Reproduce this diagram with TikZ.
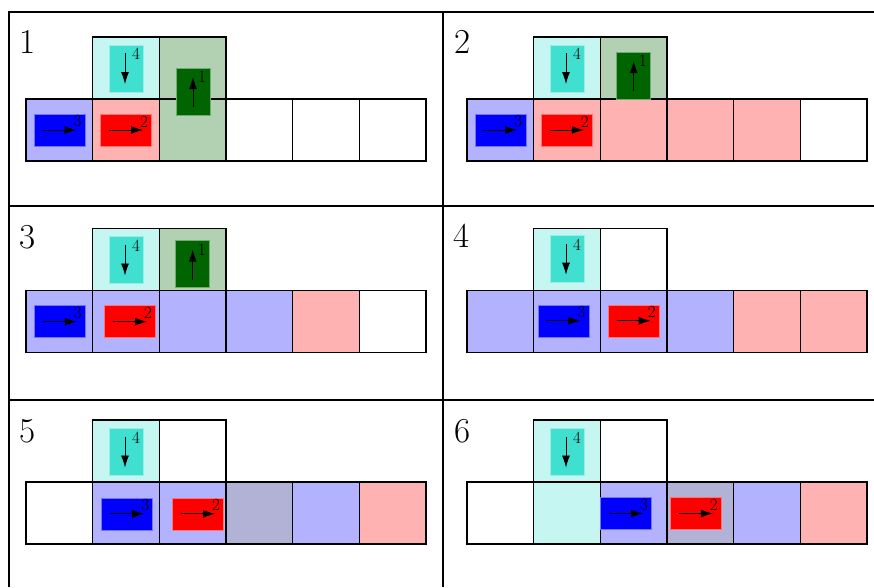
\documentclass[tikz,border=0pt]{standalone}
\usetikzlibrary{arrows.meta,calc}
\definecolor{turq}{RGB}{64,224,208}
\definecolor{dkgreen}{RGB}{0,100,0}
\definecolor{grayblue}{RGB}{178,178,214}
\tikzset{
  cellbox/.style={draw=black, line width=1.3pt},
  hbox/.style={minimum width=51pt, minimum height=32pt, inner sep=0pt, line width=0.6pt},
  vbox/.style={minimum width=34pt, minimum height=47pt, inner sep=0pt, line width=0.6pt},
  arr/.style={line width=0.8pt, -{Latex[length=12pt,width=8pt]}},
  lab/.style={inner sep=0pt, font=\fontsize{17}{17}\selectfont},
  bignum/.style={inner sep=0pt, anchor=base, font=\fontsize{35}{35}\selectfont},
  tabline/.style={line width=2pt}
}
% cell: panel-x, panel-y, column, row, fill
\newcommand\cellat[5]{%
  \draw[cellbox, fill=#5] ({#1+#3*66.67},{#2+#4*62}) rectangle ++(66.67,62);}
% horizontal vehicle: name, x, y, colour, label
\newcommand\hveh[5]{%
  \node[hbox, fill=#4, draw=#4!55] (#1) at (#2,#3) {};
  \draw[arr] ($(#1.center)+(-17,0)$) -- ($(#1.center)+(17,0)$);
  \node[lab] (#1l) at ($(#1.center)+(18,-8.5)$) {#5};}
% vertical vehicle going down
\newcommand\dveh[5]{%
  \node[vbox, fill=#4, draw=#4!55] (#1) at (#2,#3) {};
  \draw[arr] ($(#1.center)+(-1,-15.5)$) -- ($(#1.center)+(-1,15.5)$);
  \node[lab] (#1l) at ($(#1.center)+(10,-14.5)$) {#5};}
% vertical vehicle going up
\newcommand\uveh[5]{%
  \node[vbox, fill=#4, draw=#4!55] (#1) at (#2,#3) {};
  \draw[arr] ($(#1.center)+(0,15.5)$) -- ($(#1.center)+(0,-14.5)$);
  \node[lab] (#1l) at ($(#1.center)+(9,-14.5)$) {#5};}
\begin{document}
\begin{tikzpicture}[x=1pt,y=-1pt]
\useasboundingbox[fill=white] (0,0) rectangle (874,587);

% ---------- Panel 1 ----------
\cellat{26}{37}{1}{0}{turq!30}
\cellat{26}{37}{2}{0}{dkgreen!30}
\cellat{26}{37}{0}{1}{blue!30}
\cellat{26}{37}{1}{1}{red!30}
\cellat{26}{37}{2}{1}{dkgreen!30}
\cellat{26}{37}{3}{1}{white}
\cellat{26}{37}{4}{1}{white}
\cellat{26}{37}{5}{1}{white}
\dveh{a4}{126}{68.5}{turq}{4}
\uveh{a1}{193}{91.5}{dkgreen}{1}
\hveh{a3}{59.5}{130}{blue}{3}
\hveh{a2}{126}{130}{red}{2}
\node[bignum] (n1) at (28,53) {1};

% ---------- Panel 2 ----------
\cellat{467}{37}{1}{0}{turq!30}
\cellat{467}{37}{2}{0}{dkgreen!30}
\cellat{467}{37}{0}{1}{blue!30}
\cellat{467}{37}{1}{1}{red!30}
\cellat{467}{37}{2}{1}{red!30}
\cellat{467}{37}{3}{1}{red!30}
\cellat{467}{37}{4}{1}{red!30}
\cellat{467}{37}{5}{1}{white}
\dveh{b4}{567}{68.5}{turq}{4}
\uveh{b1}{633.7}{75.5}{dkgreen}{1}
\hveh{b3}{500.3}{130}{blue}{3}
\hveh{b2}{566.8}{130}{red}{2}
\node[bignum] (n2) at (463,53) {2};

% ---------- Panel 3 ----------
\cellat{26}{228.5}{1}{0}{turq!30}
\cellat{26}{228.5}{2}{0}{dkgreen!30}
\cellat{26}{228.5}{0}{1}{blue!30}
\cellat{26}{228.5}{1}{1}{blue!30}
\cellat{26}{228.5}{2}{1}{blue!30}
\cellat{26}{228.5}{3}{1}{blue!30}
\cellat{26}{228.5}{4}{1}{red!30}
\cellat{26}{228.5}{5}{1}{white}
\dveh{c4}{126}{260}{turq}{4}
\uveh{c1}{192.7}{264}{dkgreen}{1}
\hveh{c3}{59.8}{321.7}{blue}{3}
\hveh{c2}{130}{321.7}{red}{2}
\node[bignum] (n3) at (28,248) {3};

% ---------- Panel 4 ----------
\cellat{467}{228.5}{1}{0}{turq!30}
\cellat{467}{228.5}{2}{0}{white}
\cellat{467}{228.5}{0}{1}{blue!30}
\cellat{467}{228.5}{1}{1}{blue!30}
\cellat{467}{228.5}{2}{1}{blue!30}
\cellat{467}{228.5}{3}{1}{blue!30}
\cellat{467}{228.5}{4}{1}{red!30}
\cellat{467}{228.5}{5}{1}{red!30}
\dveh{d4}{567}{259.2}{turq}{4}
\hveh{d3}{563.3}{320.8}{blue}{3}
\hveh{d2}{633.7}{320.8}{red}{2}
\node[bignum] (n4) at (462,247) {4};

% ---------- Panel 5 ----------
\cellat{26}{420}{1}{0}{turq!30}
\cellat{26}{420}{2}{0}{white}
\cellat{26}{420}{0}{1}{white}
\cellat{26}{420}{1}{1}{blue!30}
\cellat{26}{420}{2}{1}{blue!30}
\cellat{26}{420}{3}{1}{grayblue}
\cellat{26}{420}{4}{1}{blue!30}
\cellat{26}{420}{5}{1}{red!30}
\dveh{e4}{126}{452}{turq}{4}
\hveh{e3}{127.2}{513.8}{blue}{3}
\hveh{e2}{198}{513.8}{red}{2}
\node[bignum] (n5) at (27.5,442) {5};

% ---------- Panel 6 ----------
\cellat{467}{420}{1}{0}{turq!30}
\cellat{467}{420}{2}{0}{white}
\cellat{467}{420}{0}{1}{white}
\cellat{467}{420}{1}{1}{turq!30}
\cellat{467}{420}{2}{1}{blue!30}
\cellat{467}{420}{3}{1}{grayblue}
\cellat{467}{420}{4}{1}{blue!30}
\cellat{467}{420}{5}{1}{red!30}
\dveh{f4}{567}{452}{turq}{4}
\hveh{f3}{626}{513.5}{blue}{3}
\hveh{f2}{695.8}{513.5}{red}{2}
\node[bignum] (n6) at (463,442) {6};

% ---------- table rules ----------
\draw[tabline] (9,587) -- (9,12) -- (874,12);
\draw[tabline] (443,12) -- (443,587);
\draw[tabline] (9,206) -- (874,206);
\draw[tabline] (9,400) -- (874,400);
\end{tikzpicture}
\end{document}
